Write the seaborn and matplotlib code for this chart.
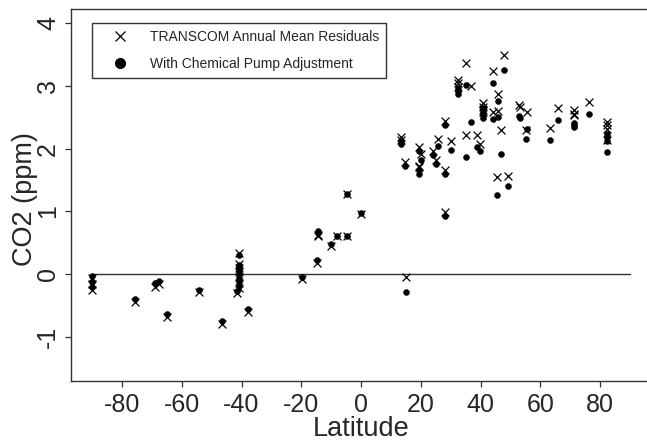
import pandas as pd
import numpy as np
from matplotlib import pyplot as plt
from matplotlib.lines import Line2D
import seaborn as sns

# station latitude, TRANSCOM annual mean residual, value with chemical pump adjustment
latitude = [-90.0, -90.0, -90.0, -75.6, -69.0, -67.6, -64.9, -54.3, -46.4, -41.4,
            -40.7, -40.7, -40.7, -40.7, -40.7, -40.7, -40.7, -37.9, -19.6, -14.9,
            -14.3, -14.3, -10.0, -7.9, -4.7, -4.6, 0.0,
            13.3, 13.3, 14.7, 15.0, 19.5, 19.5, 19.5, 20.2, 24.2, 25.0,
            25.7, 28.1, 28.1, 28.1, 30.0, 32.3, 32.3, 32.3, 35.1, 35.1,
            36.8, 38.7, 39.8, 40.7, 40.7, 40.7, 40.7, 44.3, 44.3, 45.4,
            46.0, 46.0, 46.9, 48.0, 49.3, 52.8, 53.2, 55.5, 55.2, 63.3,
            66.0, 71.3, 71.3, 71.3, 76.2, 82.4, 82.4, 82.4, 82.4]
residuals = [-0.06, -0.16, -0.26, -0.45, -0.20, -0.16, -0.68, -0.29, -0.80, -0.31,
             0.33, 0.16, 0.10, 0.03, -0.05, -0.15, -0.22, -0.61, -0.08, 0.18,
             0.60, 0.63, 0.45, 0.61, 0.61, 1.27, 0.95,
             2.19, 2.14, 1.79, -0.04, 2.03, 1.72, 1.70, 1.91, 1.96, 1.82,
             2.16, 2.44, 1.66, 0.99, 2.12, 3.09, 3.05, 2.98, 3.36, 2.22,
             2.99, 2.22, 2.07, 2.73, 2.67, 2.62, 2.58, 3.23, 2.59, 1.55,
             2.87, 2.60, 2.30, 3.49, 1.56, 2.70, 2.67, 2.59, 2.30, 2.32,
             2.65, 2.62, 2.55, 2.53, 2.74, 2.42, 2.37, 2.31, 2.14]
adjusted = [-0.03, -0.13, -0.21, -0.39, -0.15, -0.11, -0.63, -0.25, -0.75, -0.27,
            0.30, 0.14, 0.08, 0.01, -0.06, -0.13, -0.19, -0.56, -0.04, 0.22,
            0.66, 0.69, 0.48, 0.61, 0.61, 1.28, 0.98,
            2.12, 2.08, 1.73, -0.29, 1.96, 1.66, 1.60, 1.81, 1.89, 1.76,
            2.04, 2.37, 1.59, 0.92, 1.97, 2.96, 2.91, 2.87, 3.01, 1.87,
            2.43, 2.03, 1.96, 2.64, 2.59, 2.54, 2.48, 3.05, 2.47, 1.26,
            2.76, 2.51, 1.92, 3.26, 1.41, 2.52, 2.48, 2.31, 2.15, 2.14,
            2.46, 2.41, 2.38, 2.34, 2.55, 2.23, 2.18, 2.12, 1.95]

x_ticks = [-80, -60, -40, -20, 0, 20, 40, 60, 80]
y_ticks = [-1, 0, 1, 2, 3, 4]

df = pd.DataFrame({'lat': latitude, 'resid': residuals, 'adj': adjusted})

sns.set_theme(style='white')
plt.rcParams['font.family'] = ['Liberation Sans', 'DejaVu Sans']

fig = plt.figure(figsize=(6.47, 4.41), dpi=100)
ax = fig.add_axes([71 / 647, 1 - 380.7 / 441, 575 / 647, 371.4 / 441])

ax.plot([-90, 90], [0, 0], color='#333333', lw=1.0, zorder=1)

sns.scatterplot(data=df, x='lat', y='resid', marker='x', color='black', s=32,
                linewidth=0.9, ax=ax, zorder=3)
sns.scatterplot(data=df, x='lat', y='adj', marker='o', color='black', s=19,
                edgecolor='black', linewidth=0.3, ax=ax, zorder=2)

ax.set_xlim(-97.1, 95.4)
ax.set_ylim(-1.70, 4.22)
ax.set_xticks(x_ticks)
ax.set_yticks(y_ticks)
ax.set_xticklabels([str(t) for t in x_ticks])
ax.set_yticklabels([str(t) for t in y_ticks])

ax.tick_params(axis='both', which='major', direction='out', length=4, width=0.9,
               color='#333333', labelsize=18, bottom=True, left=True)
ax.tick_params(axis='x', pad=5)
ax.tick_params(axis='y', pad=4, labelrotation=90)
for lab in ax.get_yticklabels():
    lab.set_va('center')

for sp in ax.spines.values():
    sp.set_color('#333333')
    sp.set_linewidth(1.0)
ax.spines['right'].set_visible(False)

ax.set_xlabel('Latitude', fontsize=19.5)
ax.set_ylabel('CO2 (ppm)', fontsize=19.5)
ax.xaxis.set_label_coords(0.504, -0.095)
ax.yaxis.set_label_coords(-0.057, 0.49)

handles = [Line2D([], [], marker='x', color='black', linestyle='none', markersize=7, markeredgewidth=0.9),
           Line2D([], [], marker='o', color='black', linestyle='none', markersize=7)]
leg = ax.legend(handles, ['TRANSCOM Annual Mean Residuals', 'With Chemical Pump Adjustment'],
                loc='upper left', bbox_to_anchor=(0.0365, 0.963), borderaxespad=0,
                fontsize=10, frameon=True, fancybox=False, edgecolor='black',
                borderpad=0.5, labelspacing=0.95, handlelength=3.1, handletextpad=0.55)
leg.get_frame().set_linewidth(1.0)

fig.savefig('out.png', dpi=100)
